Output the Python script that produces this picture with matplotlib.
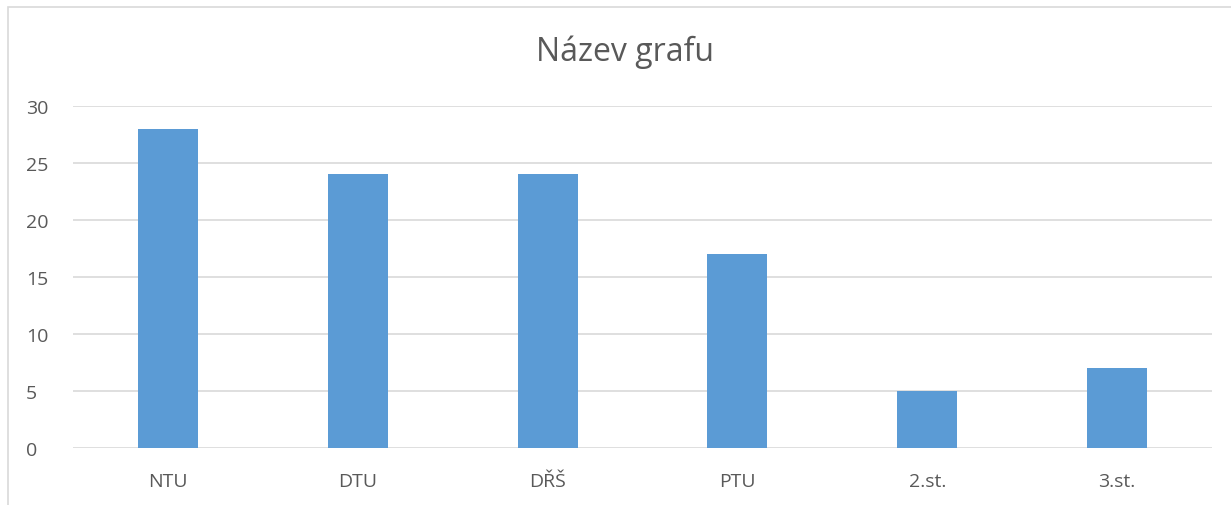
import matplotlib.pyplot as plt
from matplotlib.patches import Rectangle

categories = ["NTU", "DTU", "DŘŠ", "PTU", "2.st.", "3.st."]
values = [28, 24, 24, 17, 5, 7]
yticks = [0, 5, 10, 15, 20, 25, 30]

W, H = 1231, 506
plt.rcParams["font.family"] = ["Open Sans", "DejaVu Sans"]

fig = plt.figure(figsize=(W / 100, H / 100), dpi=100)
# chart border (clipped at right/bottom like the screenshot)
fig.patches.append(Rectangle((8 / W, -0.1), 1.2, 1 - 8 / H + 0.1,
                             transform=fig.transFigure, fill=False,
                             edgecolor="#D9D9D9", linewidth=1.2))

ax = fig.add_axes([73 / W, 1 - 449 / H, (1212 - 73) / W, (449 - 107) / H])
x = range(len(categories))
ax.bar(x, values, width=0.316, color="#5B9BD5", zorder=3)
ax.set_xlim(-0.5, len(categories) - 0.5)
ax.set_ylim(0, 30)
ax.set_yticks(yticks)
ax.set_xticks(list(x))
ax.set_xticklabels(categories)
ax.grid(axis="y", color="#D9D9D9", linewidth=1.2, zorder=0)
for s in ax.spines.values():
    s.set_visible(False)
ax.tick_params(length=0, colors="#595959", labelsize=14)
ax.tick_params(axis="y", pad=34)
ax.tick_params(axis="x", pad=17)
for lbl in ax.get_yticklabels():
    lbl.set_horizontalalignment("left")
fig.text(625 / W, 1 - 52 / H, "Název grafu", fontsize=23, color="#595959",
         ha="center", va="center")

fig.savefig("out.png", dpi=100)
